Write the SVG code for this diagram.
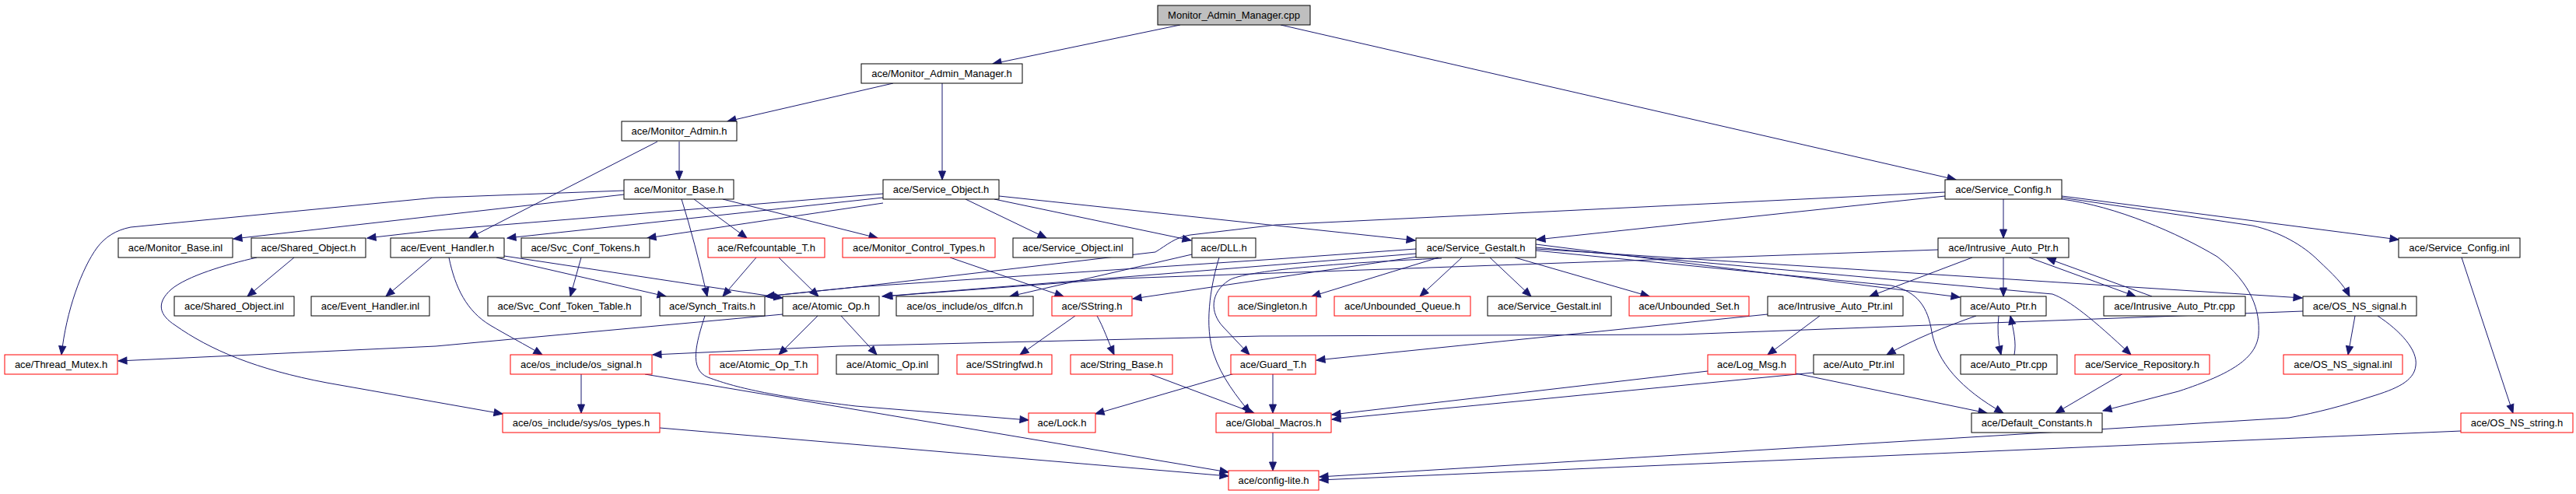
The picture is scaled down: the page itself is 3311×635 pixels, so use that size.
<svg xmlns="http://www.w3.org/2000/svg" width="3311" height="635" viewBox="0 0 3311 635">
<style>
rect{stroke-width:1;fill:#fff}
.n{stroke:#000}
.r{stroke:#ff0000}
.g{stroke:#000;fill:#bfbfbf}
text{font-family:"Liberation Sans",Arial,Helvetica,sans-serif;font-size:13px;text-anchor:middle;fill:#000}
#edges path{fill:none;stroke:#191970;stroke-width:1;marker-end:url(#ah)}
</style>
<defs>
<marker id="ah" markerUnits="userSpaceOnUse" markerWidth="11" markerHeight="9" refX="11" refY="4.5" orient="auto" overflow="visible">
<path d="M0,0 L11,4.5 L0,9 z" fill="#191970" stroke="#191970" stroke-width="1"/>
</marker>
</defs>
<rect x="0" y="0" width="3311" height="635" style="fill:#fff;stroke:none"/>
<g id="edges">
<path d="M1517,32 L1276,82"/>
<path d="M1646,32 L2514,231"/>
<path d="M1148,107 L935,156"/>
<path d="M1211,107 L1211,231"/>
<path d="M873,182 L873,231"/>
<path d="M845,182 L603,306"/>
<path d="M802,250 L300,307"/>
<path d="M802,245 L560,254 L168,292 C148,296 135,305 125,318 C105,345 85,400 79,456"/>
<path d="M876,256 Q893,310 909,381"/>
<path d="M892,256 L960,306"/>
<path d="M929,256 L1128,306"/>
<path d="M1135,249 L560,296 L472,306"/>
<path d="M1135,254 L652,306"/>
<path d="M1135,261 L832,306"/>
<path d="M1241,256 L1345,306"/>
<path d="M1278,256 L1531,309"/>
<path d="M1284,252 L1819,309"/>
<path d="M2500,252 L1975,308"/>
<path d="M2500,247 L1640,289 L1530,302 C1510,305 1500,315 1485,324 L1100,369 L984,381"/>
<path d="M1820,320 L1640,333 L1100,369 L984,381"/>
<path d="M1820,326 L1134,381"/>
<path d="M2491,321 L1440,358 L1136,381"/>
<path d="M1822,330 L1456,384"/>
<path d="M1849,331 L1686,381"/>
<path d="M1879,331 L1825,381"/>
<path d="M1915,331 L1968,381"/>
<path d="M1947,331 L2120,381"/>
<path d="M1853,332 C1720,338 1600,348 1580,360 C1555,376 1555,402 1572,420 L1606,456"/>
<path d="M1974,314 L2519,382"/>
<path d="M1974,318 L2638,378 C2660,386 2690,410 2739,456"/>
<path d="M1974,320 L2959,383"/>
<path d="M1974,322 L2431,367 C2465,375 2478,395 2483,427 C2490,465 2520,500 2575,531"/>
<path d="M2650,252 L3083,308"/>
<path d="M2650,254 L2895,290 C2930,298 2960,315 2980,335 C2998,352 3012,365 3020,381"/>
<path d="M2650,256 C2720,265 2800,300 2850,330 C2895,365 2905,400 2903,430 C2900,460 2870,480 2800,503 L2703,528"/>
<path d="M2575,256 L2575,306"/>
<path d="M2575,331 L2575,381"/>
<path d="M2535,331 L2403,381"/>
<path d="M2608,331 L2745,381"/>
<path d="M2766,381 L2631,332"/>
<path d="M2339,406 L2272,456"/>
<path d="M2272,404 L1692,463"/>
<path d="M2540,406 C2500,420 2460,436 2425,456"/>
<path d="M2569,406 Q2566,430 2572,456"/>
<path d="M2589,456 C2592,440 2588,425 2584,406"/>
<path d="M2195,477 L1712,533"/>
<path d="M2308,480 L2554,531"/>
<path d="M2331,479 L1712,539"/>
<path d="M2729,480 L2642,531"/>
<path d="M3027,406 L3018,456"/>
<path d="M3056,406 C3085,425 3108,450 3105,470 C3103,490 3080,500 3047,510 C3010,522 2980,530 2942,537 L1696,613"/>
<path d="M2960,400 L2160,430 L1620,432 L1080,445 L839,456"/>
<path d="M3163,554 L1696,617"/>
<path d="M3164,331 L3230,531"/>
<path d="M378,331 L318,381"/>
<path d="M330,331 C290,340 240,355 220,372 C200,390 205,405 225,418 C270,450 330,475 420,492 L646,532"/>
<path d="M555,331 L496,381"/>
<path d="M577,331 C585,370 600,400 630,418 C650,430 675,443 697,456"/>
<path d="M638,331 L856,381"/>
<path d="M648,329 L1006,383"/>
<path d="M747,331 L733,381"/>
<path d="M972,331 L929,381"/>
<path d="M1001,331 L1052,381"/>
<path d="M1221,331 L1367,381"/>
<path d="M1532,327 L1298,381"/>
<path d="M1567,331 C1555,370 1548,420 1560,455 C1570,485 1590,510 1607,531"/>
<path d="M1006,404 L560,445 L152,464"/>
<path d="M1051,406 L1001,456"/>
<path d="M1081,406 L1127,456"/>
<path d="M906,406 C895,440 885,475 910,485 C950,500 1000,510 1100,522 L1322,540"/>
<path d="M747,480 L747,531"/>
<path d="M829,481 L1579,607"/>
<path d="M848,550 L1579,612"/>
<path d="M1382,406 L1311,456"/>
<path d="M1410,406 C1418,420 1425,440 1432,456"/>
<path d="M1476,480 L1612,531"/>
<path d="M1587,480 L1408,532"/>
<path d="M1636,480 L1636,531"/>
<path d="M1636,555 L1636,605"/>
</g>
<g id="n_cpp"><rect class="g" x="1488" y="7" width="196" height="25"/><text x="1586" y="24">Monitor_Admin_Manager.cpp</text></g>
<g id="n_mamh"><rect class="n" x="1107" y="82" width="207" height="25"/><text x="1210.5" y="99">ace/Monitor_Admin_Manager.h</text></g>
<g id="n_madm"><rect class="n" x="799" y="156" width="148" height="25"/><text x="873" y="173">ace/Monitor_Admin.h</text></g>
<g id="n_mbase"><rect class="n" x="802" y="231" width="141" height="25"/><text x="872.5" y="248">ace/Monitor_Base.h</text></g>
<g id="n_sobj"><rect class="n" x="1135" y="231" width="149" height="25"/><text x="1209.5" y="248">ace/Service_Object.h</text></g>
<g id="n_scfg"><rect class="n" x="2500" y="231" width="150" height="25"/><text x="2575" y="248">ace/Service_Config.h</text></g>
<g id="n_mbinl"><rect class="n" x="152" y="306" width="147" height="25"/><text x="225.5" y="323">ace/Monitor_Base.inl</text></g>
<g id="n_shobj"><rect class="n" x="323" y="306" width="147" height="25"/><text x="396.5" y="323">ace/Shared_Object.h</text></g>
<g id="n_evh"><rect class="n" x="502" y="306" width="146" height="25"/><text x="575" y="323">ace/Event_Handler.h</text></g>
<g id="n_sct"><rect class="n" x="670" y="306" width="165" height="25"/><text x="752.5" y="323">ace/Svc_Conf_Tokens.h</text></g>
<g id="n_refc"><rect class="r" x="910" y="306" width="150" height="25"/><text x="985" y="323">ace/Refcountable_T.h</text></g>
<g id="n_mct"><rect class="r" x="1083" y="306" width="196" height="25"/><text x="1181" y="323">ace/Monitor_Control_Types.h</text></g>
<g id="n_soinl"><rect class="n" x="1302" y="306" width="154" height="25"/><text x="1379" y="323">ace/Service_Object.inl</text></g>
<g id="n_dll"><rect class="n" x="1532" y="306" width="82" height="25"/><text x="1573" y="323">ace/DLL.h</text></g>
<g id="n_sg"><rect class="n" x="1820" y="306" width="154" height="25"/><text x="1897" y="323">ace/Service_Gestalt.h</text></g>
<g id="n_iap"><rect class="n" x="2491" y="306" width="168" height="25"/><text x="2575" y="323">ace/Intrusive_Auto_Ptr.h</text></g>
<g id="n_scinl"><rect class="n" x="3083" y="306" width="156" height="25"/><text x="3161" y="323">ace/Service_Config.inl</text></g>
<g id="n_shinl"><rect class="n" x="224" y="381" width="154" height="25"/><text x="301" y="398">ace/Shared_Object.inl</text></g>
<g id="n_evinl"><rect class="n" x="400" y="381" width="152" height="25"/><text x="476" y="398">ace/Event_Handler.inl</text></g>
<g id="n_sctt"><rect class="n" x="627" y="381" width="197" height="25"/><text x="725.5" y="398">ace/Svc_Conf_Token_Table.h</text></g>
<g id="n_synch"><rect class="n" x="848" y="381" width="135" height="25"/><text x="915.5" y="398">ace/Synch_Traits.h</text></g>
<g id="n_atom"><rect class="n" x="1006" y="381" width="124" height="25"/><text x="1068" y="398">ace/Atomic_Op.h</text></g>
<g id="n_dlfcn"><rect class="n" x="1152" y="381" width="176" height="25"/><text x="1240" y="398">ace/os_include/os_dlfcn.h</text></g>
<g id="n_sstr"><rect class="r" x="1352" y="381" width="103" height="25"/><text x="1403.5" y="398">ace/SString.h</text></g>
<g id="n_single"><rect class="r" x="1579" y="381" width="113" height="25"/><text x="1635.5" y="398">ace/Singleton.h</text></g>
<g id="n_uq"><rect class="r" x="1715" y="381" width="175" height="25"/><text x="1802.5" y="398">ace/Unbounded_Queue.h</text></g>
<g id="n_sginl"><rect class="n" x="1912" y="381" width="159" height="25"/><text x="1991.5" y="398">ace/Service_Gestalt.inl</text></g>
<g id="n_us"><rect class="r" x="2094" y="381" width="154" height="25"/><text x="2171" y="398">ace/Unbounded_Set.h</text></g>
<g id="n_iapinl"><rect class="n" x="2272" y="381" width="174" height="25"/><text x="2359" y="398">ace/Intrusive_Auto_Ptr.inl</text></g>
<g id="n_ap"><rect class="n" x="2520" y="381" width="110" height="25"/><text x="2575" y="398">ace/Auto_Ptr.h</text></g>
<g id="n_iapcpp"><rect class="n" x="2704" y="381" width="182" height="25"/><text x="2795" y="398">ace/Intrusive_Auto_Ptr.cpp</text></g>
<g id="n_nssig"><rect class="n" x="2960" y="381" width="146" height="25"/><text x="3033" y="398">ace/OS_NS_signal.h</text></g>
<g id="n_tm"><rect class="r" x="6" y="456" width="145" height="25"/><text x="78.5" y="473">ace/Thread_Mutex.h</text></g>
<g id="n_ossig"><rect class="r" x="656" y="456" width="182" height="25"/><text x="747" y="473">ace/os_include/os_signal.h</text></g>
<g id="n_aot"><rect class="r" x="912" y="456" width="139" height="25"/><text x="981.5" y="473">ace/Atomic_Op_T.h</text></g>
<g id="n_aoinl"><rect class="n" x="1075" y="456" width="131" height="25"/><text x="1140.5" y="473">ace/Atomic_Op.inl</text></g>
<g id="n_sfwd"><rect class="r" x="1230" y="456" width="122" height="25"/><text x="1291" y="473">ace/SStringfwd.h</text></g>
<g id="n_sb"><rect class="r" x="1376" y="456" width="131" height="25"/><text x="1441.5" y="473">ace/String_Base.h</text></g>
<g id="n_guard"><rect class="r" x="1582" y="456" width="109" height="25"/><text x="1636.5" y="473">ace/Guard_T.h</text></g>
<g id="n_log"><rect class="r" x="2195" y="456" width="113" height="25"/><text x="2251.5" y="473">ace/Log_Msg.h</text></g>
<g id="n_apinl"><rect class="n" x="2331" y="456" width="116" height="25"/><text x="2389" y="473">ace/Auto_Ptr.inl</text></g>
<g id="n_apcpp"><rect class="n" x="2520" y="456" width="124" height="25"/><text x="2582" y="473">ace/Auto_Ptr.cpp</text></g>
<g id="n_srep"><rect class="r" x="2667" y="456" width="173" height="25"/><text x="2753.5" y="473">ace/Service_Repository.h</text></g>
<g id="n_nssiginl"><rect class="r" x="2935" y="456" width="153" height="25"/><text x="3011.5" y="473">ace/OS_NS_signal.inl</text></g>
<g id="n_ostypes"><rect class="r" x="646" y="531" width="202" height="25"/><text x="747" y="548">ace/os_include/sys/os_types.h</text></g>
<g id="n_lock"><rect class="r" x="1322" y="531" width="86" height="25"/><text x="1365" y="548">ace/Lock.h</text></g>
<g id="n_gm"><rect class="r" x="1563" y="531" width="148" height="25"/><text x="1637" y="548">ace/Global_Macros.h</text></g>
<g id="n_dc"><rect class="n" x="2534" y="531" width="168" height="25"/><text x="2618" y="548">ace/Default_Constants.h</text></g>
<g id="n_nsstr"><rect class="r" x="3163" y="531" width="144" height="25"/><text x="3235" y="548">ace/OS_NS_string.h</text></g>
<g id="n_cfg"><rect class="r" x="1579" y="605" width="116" height="25"/><text x="1637" y="622">ace/config-lite.h</text></g>
</svg>
